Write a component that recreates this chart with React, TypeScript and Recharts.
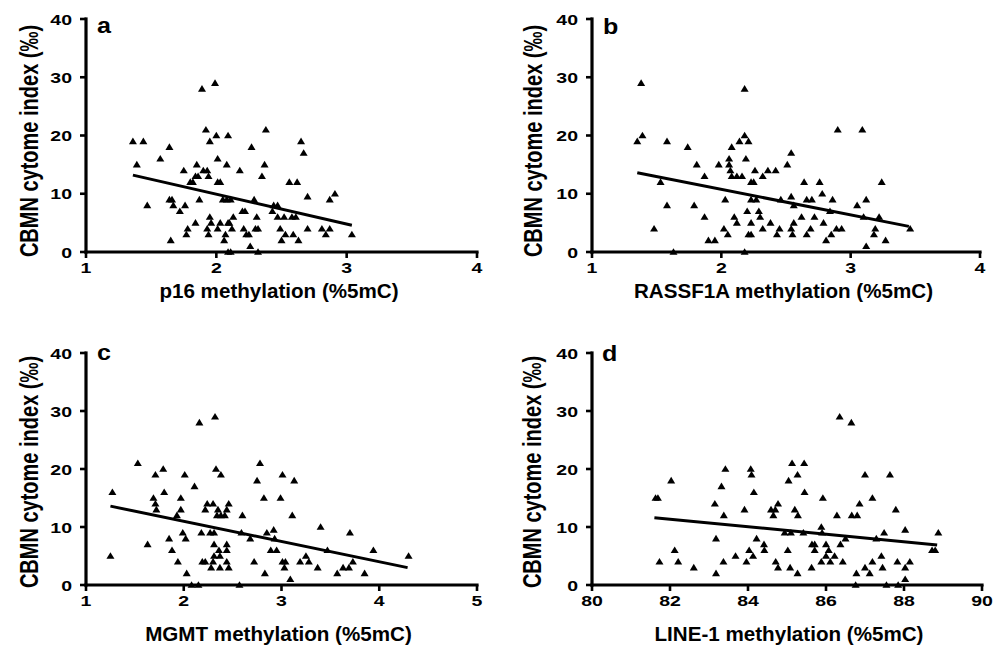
import React from 'react'
import { ScatterChart, Scatter, XAxis, YAxis } from 'recharts'

const FONT = '"Liberation Sans", Arial, sans-serif'

const yTicks = [0, 10, 20, 30, 40]
const p16Ticks = [1, 2, 3, 4]
const rassfTicks = [1, 2, 3, 4]
const mgmtTicks = [1, 2, 3, 4, 5]
const line1Ticks = [80, 82, 84, 86, 88, 90]

// panel a: p16
const p16X = [1.36, 1.44, 1.39, 1.47, 1.57, 1.64, 1.65, 1.64, 1.66, 1.67, 1.72, 1.75, 1.76, 1.77, 1.78, 1.8, 1.82, 1.84, 1.85, 1.86, 1.84, 1.87, 1.89, 1.9, 1.92, 1.93, 1.94, 1.93, 1.94, 1.95, 1.95, 1.96, 1.99, 2.0, 2.01, 2.01, 2.03, 2.01, 2.03, 2.05, 2.06, 2.07, 2.08, 2.09, 2.08, 2.09, 2.11, 2.1, 2.12, 2.13, 2.09, 2.11, 2.18, 2.2, 2.22, 2.21, 2.23, 2.25, 2.26, 2.27, 2.29, 2.3, 2.31, 2.32, 2.32, 2.35, 2.37, 2.38, 2.44, 2.43, 2.47, 2.47, 2.49, 2.5, 2.52, 2.53, 2.56, 2.58, 2.59, 2.61, 2.62, 2.63, 2.65, 2.67, 2.7, 2.7, 2.81, 2.84, 2.87, 2.87, 2.91, 3.04]
const p16Y = [19, 19, 15, 8, 16, 18, 2, 9, 9, 8, 7, 14, 8, 3, 4, 12, 12, 13, 15, 13, 5, 9, 28, 14, 21, 14, 13, 4, 3, 19, 6, 5, 29, 20, 16, 12, 12, 4, 5, 9, 2, 3, 15, 20, 9, 5, 9, 5, 4, 6, 0, 0, 14, 7, 7, 4, 3, 3, 1, 18, 9, 4, 6, 4, 0, 13, 15, 21, 8, 7, 8, 6, 4, 2, 6, 3, 12, 6, 3, 6, 12, 2, 19, 17, 9.5, 4, 4, 3, 9, 4, 10, 3]
const p16FitX = [1.36, 3.04]
const p16FitY = [13.2, 4.6]

// panel b: RASSF1A
const rassfX = [1.38, 1.35, 1.39, 1.53, 1.48, 1.58, 1.58, 1.63, 1.74, 1.79, 1.81, 1.87, 1.87, 1.9, 1.95, 1.98, 2.02, 2.03, 2.05, 2.06, 2.06, 2.07, 2.08, 2.08, 2.1, 2.12, 2.12, 2.14, 2.16, 2.18, 2.18, 2.18, 2.19, 2.2, 2.21, 2.21, 2.23, 2.23, 2.23, 2.23, 2.25, 2.26, 2.27, 2.29, 2.3, 2.32, 2.32, 2.36, 2.38, 2.42, 2.43, 2.45, 2.46, 2.51, 2.54, 2.54, 2.54, 2.55, 2.56, 2.56, 2.62, 2.64, 2.66, 2.66, 2.69, 2.7, 2.72, 2.76, 2.78, 2.79, 2.81, 2.84, 2.85, 2.86, 2.89, 2.9, 2.93, 3.05, 3.09, 3.1, 3.12, 3.12, 3.18, 3.19, 3.22, 3.24, 3.27, 3.46]
const rassfY = [29, 19, 20, 12, 4, 19, 8, 0, 18, 8, 15, 13, 6, 2, 2, 15, 4, 9, 3, 16, 15, 14, 18, 13, 6, 13, 5, 19, 13, 20, 28, 0, 16, 7, 19, 3, 12, 5, 3, 9, 12, 14, 9, 7, 6, 13, 4, 14, 5, 14, 3, 4, 9, 15, 4, 17, 9.5, 3, 5, 8, 6, 12, 9, 3, 4, 9, 6, 12, 10, 5, 2, 7, 3, 9, 4, 21, 4, 8, 21, 6, 9, 1, 3, 4, 6, 12, 2, 4]
const rassfFitX = [1.35, 3.45]
const rassfFitY = [13.6, 4.4]

// panel c: MGMT
const mgmtX = [1.25, 1.27, 1.53, 1.63, 1.71, 1.79, 1.69, 1.71, 1.72, 1.8, 1.85, 1.88, 1.93, 1.94, 1.97, 1.97, 1.99, 2.02, 2.03, 2.08, 2.15, 2.01, 2.11, 2.16, 2.18, 2.19, 2.22, 2.22, 2.24, 2.27, 2.28, 2.3, 2.3, 2.31, 2.31, 2.31, 2.32, 2.33, 2.34, 2.35, 2.36, 2.37, 2.37, 2.38, 2.38, 2.42, 2.44, 2.44, 2.44, 2.44, 2.46, 2.46, 2.57, 2.6, 2.59, 2.68, 2.72, 2.75, 2.78, 2.82, 2.83, 2.85, 2.89, 2.92, 2.93, 2.95, 2.99, 3.01, 3.01, 3.03, 3.04, 3.09, 3.11, 3.13, 3.19, 3.25, 3.28, 3.37, 3.4, 3.47, 3.57, 3.63, 3.69, 3.7, 3.73, 3.85, 3.94, 4.3]
const mgmtY = [5, 16, 21, 7, 19, 20, 15, 14, 13, 16, 8, 6, 12, 4, 15, 13, 9, 8, 2, 0, 0, 19, 17, 28, 9, 4, 4, 13, 14, 9, 3, 14, 4, 9, 5, 7, 29, 20, 12, 13, 6, 3, 5, 19, 12, 12, 7, 4, 13, 6, 14, 3, 0, 12, 9, 8, 4, 18, 21, 15, 2, 9, 6, 9.5, 8, 6, 15, 19, 4, 3, 4, 1, 12, 18, 4, 5, 4, 3, 10, 6, 2, 3, 3, 9, 4, 2, 6, 5]
const mgmtFitX = [1.25, 4.29]
const mgmtFitY = [13.6, 3.0]

// panel d: LINE-1
const line1X = [81.63, 81.69, 81.73, 82.03, 82.12, 82.21, 82.61, 83.15, 83.18, 83.18, 83.32, 83.37, 83.38, 83.42, 83.68, 83.91, 83.96, 84.03, 84.07, 84.09, 84.13, 84.15, 84.22, 84.41, 84.42, 84.59, 84.65, 84.7, 84.71, 84.77, 84.77, 84.94, 85.02, 85.04, 85.08, 85.1, 85.13, 85.2, 85.27, 85.28, 85.27, 85.42, 85.44, 85.45, 85.63, 85.64, 85.71, 85.71, 85.88, 85.88, 85.9, 85.92, 86.0, 86.0, 86.07, 86.11, 86.22, 86.28, 86.35, 86.37, 86.43, 86.5, 86.65, 86.66, 86.8, 86.78, 86.76, 86.86, 87.0, 87.0, 87.12, 87.19, 87.19, 87.29, 87.45, 87.42, 87.49, 87.55, 87.64, 87.79, 87.83, 87.85, 88.03, 88.03, 88.03, 88.15, 88.72, 88.8, 88.88]
const line1Y = [15, 15, 4, 18, 6, 4, 3, 14, 8, 2, 17, 4, 12, 20, 5, 13, 4, 6, 20, 19, 5, 16, 8, 7, 6, 13, 12, 13, 4, 14, 3, 9, 6, 18, 3, 9, 21, 13, 19, 12, 2, 9, 21, 16, 3, 7, 7, 6, 4, 10, 9, 15, 7, 5, 6, 4, 5, 12, 29, 7, 4, 8, 28, 12, 12, 2, 0, 14, 19, 3, 2, 15, 4, 8, 3, 5, 9, 0, 19, 13, 4, 0, 1, 3, 9.5, 4, 6, 6, 9]
const line1FitX = [81.6, 88.85]
const line1FitY = [11.6, 6.9]

const zip = (xs: number[], ys: number[]) => xs.map((x, i) => ({ x, y: ys[i] }))

const Tri = (props: any) => {
  const { cx, cy } = props
  if (cx == null || cy == null) return <g />
  return <polygon points={`${cx},${cy - 3.8} ${cx - 4},${cy + 2.8} ${cx + 4},${cy + 2.8}`} fill="#000" />
}

const YTick = (props: any) => {
  const { x, y, payload } = props
  return (
    <text transform={`translate(${x},${y + 0.5}) scale(1.3,1)`} textAnchor="end" dominantBaseline="central"
      fontFamily={FONT} fontWeight="bold" fontSize={15} fill="#000">{payload.value}</text>
  )
}

const XTick = (props: any) => {
  const { x, y, payload } = props
  return (
    <text transform={`translate(${x},${y + 11}) scale(1.3,1)`} textAnchor="middle"
      fontFamily={FONT} fontWeight="bold" fontSize={15} fill="#000">{payload.value}</text>
  )
}

const axisStyle = { stroke: '#000', strokeWidth: 3.2, strokeLinecap: 'square' as const }
const tickStyle = { stroke: '#000', strokeWidth: 2.6 }

function Panel(p: any) {
  const texts = () => (
    <g>
      <text transform={`translate(${p.yl[0]},${p.yl[1]}) scale(1.27,1) rotate(-90)`} textAnchor="middle"
        dominantBaseline="central" fontFamily={FONT} fontWeight="bold" fontSize={20} fill="#000">
        CBMN cytome index (‰)
      </text>
      <text transform={`translate(${p.lp[0]},${p.lp[1]}) scale(1.14,1)`} fontFamily={FONT} fontWeight="bold"
        fontSize={22} fill="#000">{p.letter}</text>
      <text transform={`translate(${p.xl[0]},${p.xl[1]}) scale(1.03,1)`} textAnchor="middle" fontFamily={FONT}
        fontWeight="bold" fontSize={20} fill="#000">{p.xLabel}</text>
    </g>
  )
  return (
    <div style={{ position: 'absolute', left: p.left, top: p.top }}>
      <ScatterChart width={p.w} height={p.h} margin={p.margin}>
        <XAxis type="number" dataKey="x" domain={p.xDomain} ticks={p.xTicks} interval={0} height={p.xh}
          axisLine={axisStyle} tickLine={tickStyle} tickSize={6} tickMargin={4} tick={XTick} />
        <YAxis type="number" dataKey="y" domain={[0, 40]} ticks={yTicks} interval={0} width={p.yw}
          axisLine={axisStyle} tickLine={tickStyle} tickSize={6} tickMargin={8} tick={YTick}
          label={{ content: texts }} />
        <Scatter data={p.data} shape={Tri} isAnimationActive={false} />
        <Scatter data={p.fit} shape={() => <g />} line={{ stroke: '#000', strokeWidth: 3 }} lineType="joint"
          isAnimationActive={false} />
      </ScatterChart>
    </div>
  )
}

export default function App() {
  return (
    <div style={{ position: 'absolute', left: 0, top: 0, width: 1003, height: 647, background: '#fff' }}>
      <Panel left={0} top={0} w={500} h={320} margin={{ top: 19, right: 23, left: 0, bottom: 0 }} yw={86} xh={68}
        xDomain={[1, 4]} xTicks={p16Ticks} data={zip(p16X, p16Y)} fit={zip(p16FitX, p16FitY)}
        letter="a" lp={[97, 33]} xLabel="p16 methylation (%5mC)" xl={[279, 298]} yl={[29.5, 141]} />
      <Panel left={500} top={0} w={503} h={320} margin={{ top: 19, right: 23, left: 0, bottom: 0 }} yw={92} xh={68}
        xDomain={[1, 4]} xTicks={rassfTicks} data={zip(rassfX, rassfY)} fit={zip(rassfFitX, rassfFitY)}
        letter="b" lp={[103, 34]} xLabel="RASSF1A methylation (%5mC)" xl={[283.5, 298]} yl={[33, 141]} />
      <Panel left={0} top={320} w={500} h={327} margin={{ top: 33, right: 23, left: 0, bottom: 0 }} yw={86} xh={62}
        xDomain={[1, 5]} xTicks={mgmtTicks} data={zip(mgmtX, mgmtY)} fit={zip(mgmtFitX, mgmtFitY)}
        letter="c" lp={[97, 40]} xLabel="MGMT methylation (%5mC)" xl={[278.5, 321]} yl={[29.5, 152]} />
      <Panel left={500} top={320} w={503} h={327} margin={{ top: 33, right: 21, left: 0, bottom: 0 }} yw={92} xh={62}
        xDomain={[80, 90]} xTicks={line1Ticks} data={zip(line1X, line1Y)} fit={zip(line1FitX, line1FitY)}
        letter="d" lp={[102, 41]} xLabel="LINE-1 methylation (%5mC)" xl={[289, 321]} yl={[32.5, 152]} />
    </div>
  )
}
